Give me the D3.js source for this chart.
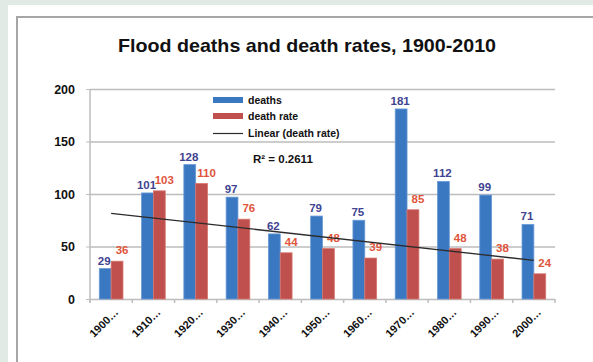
<!DOCTYPE html>
<html><head><meta charset="utf-8">
<script src="https://cdn.jsdelivr.net/npm/d3@7"></script>
<style>
html,body{margin:0;padding:0;background:#e2eae5;}
svg{display:block;}
text{font-family:"Liberation Sans",Arial,sans-serif;}
</style></head>
<body><svg id="c" width="593" height="362"></svg>
<script>
const categories = ["1900…","1910…","1920…","1930…","1940…","1950…","1960…","1970…","1980…","1990…","2000…"];
const deaths = [29,101,128,97,62,79,75,181,112,99,71];
const deathRate = [36,103,110,76,44,48,39,85,48,38,24];
const yTicks = [0,50,100,150,200];
const seriesNames = ["deaths","death rate"];
const trendLabel = "Linear (death rate)";
const r2Label = "R² = 0.2611";
const title = "Flood deaths and death rates, 1900-2010";

(function(){
const svg = d3.select("#c");
svg.append("rect").attr("x",8).attr("y",5).attr("width",600).attr("height",400).attr("fill","#fff");
svg.append("rect").attr("x",17).attr("y",17).attr("width",600).attr("height",400)
  .attr("fill","#fff").attr("stroke","#a6a6a6").attr("stroke-width",2);

const pL=90, pR=555, pT=89, pB=299;
const x = d3.scaleBand().domain(categories).range([pL,pR]).paddingInner(0.44).paddingOuter(0.22);
const xs = d3.scaleBand().domain(seriesNames).range([0,x.bandwidth()]);
const y = d3.scaleLinear().domain([0,200]).range([pB,pT]);

svg.append("text").attr("x",307).attr("y",52).attr("text-anchor","middle")
  .attr("font-size",19).attr("font-weight","bold").attr("fill","#111")
  .attr("textLength",378).attr("lengthAdjust","spacingAndGlyphs").text(title);

svg.append("g").selectAll("line").data(yTicks).join("line")
  .attr("x1",pL).attr("x2",pR).attr("y1",d=>y(d)+0.5).attr("y2",d=>y(d)+0.5)
  .attr("stroke","#bdbdbd").attr("stroke-width",1.5);
svg.append("line").attr("x1",pL).attr("x2",pL).attr("y1",pT).attr("y2",pB+4)
  .attr("stroke","#bdbdbd").attr("stroke-width",1.5);
const yAxis = d3.axisLeft(y).tickValues(yTicks).tickSize(4).tickPadding(11);
const gy = svg.append("g").attr("transform",`translate(${pL},0)`).call(yAxis);
gy.select(".domain").remove();
gy.selectAll("line").attr("stroke","#bdbdbd");
gy.selectAll("text").attr("font-size",12.5).attr("font-weight","bold").attr("fill","#111")
  .attr("font-family","Liberation Sans,Arial,sans-serif");

const step = x.step();
const bounds = categories.map(c=>x(c)-step*x.paddingInner()/2).concat([x(categories[categories.length-1])+x.bandwidth()+step*x.paddingInner()/2]);
svg.append("g").selectAll("line").data(bounds).join("line")
  .attr("x1",d=>d).attr("x2",d=>d).attr("y1",pB).attr("y2",pB+4)
  .attr("stroke","#bdbdbd").attr("stroke-width",1.5);

const colors = {"deaths":"#3b78c2","death rate":"#c0504d"};
const strokes = {"deaths":"#6a9ad6","death rate":"#d6756f"};
const groups = svg.append("g").selectAll("g").data(categories).join("g")
  .attr("transform",d=>`translate(${x(d)},0)`);
groups.append("rect").attr("x",xs("deaths")).attr("width",xs.bandwidth())
  .attr("y",(d,i)=>y(deaths[i])).attr("height",(d,i)=>pB-y(deaths[i]))
  .attr("fill",colors["deaths"]).attr("stroke",strokes["deaths"]).attr("stroke-width",0.8);
groups.append("rect").attr("x",xs("death rate")).attr("width",xs.bandwidth())
  .attr("y",(d,i)=>y(deathRate[i])).attr("height",(d,i)=>pB-y(deathRate[i]))
  .attr("fill",colors["death rate"]).attr("stroke",strokes["death rate"]).attr("stroke-width",0.8);

const n = deathRate.length;
const mx = d3.mean(d3.range(n)), my = d3.mean(deathRate);
const slope = d3.sum(deathRate,(v,i)=>(i-mx)*(v-my))/d3.sum(d3.range(n),i=>(i-mx)*(i-mx));
const icpt = my - slope*mx;
const cx = c=>x(c)+x.bandwidth()/2;
svg.append("line").attr("x1",cx(categories[0])).attr("y1",y(icpt))
  .attr("x2",cx(categories[n-1])).attr("y2",y(icpt+slope*(n-1)))
  .attr("stroke","#2b2b2b").attr("stroke-width",1.3);

groups.append("text").attr("x",xs("deaths")+xs.bandwidth()/2-1).attr("y",(d,i)=>y(deaths[i])-4)
  .attr("text-anchor","middle").attr("font-size",11.5).attr("font-weight","bold").attr("fill","#3f4391")
  .text((d,i)=>deaths[i]);
groups.append("text").attr("x",xs("death rate")+xs.bandwidth()/2+5).attr("y",(d,i)=>y(deathRate[i])-7)
  .attr("text-anchor","middle").attr("font-size",11.5).attr("font-weight","bold").attr("fill","#e0553c")
  .text((d,i)=>deathRate[i]);

svg.append("g").selectAll("text").data(categories).join("text")
  .attr("transform",d=>`translate(${cx(d)+8},${pB+14}) rotate(-45)`)
  .attr("text-anchor","end").attr("font-size",11).attr("font-weight","bold").attr("fill","#111")
  .text(d=>d);

const lg = svg.append("g").attr("transform","translate(213,0)");
lg.append("rect").attr("x",0).attr("y",97).attr("width",30).attr("height",6).attr("fill",colors["deaths"]);
lg.append("rect").attr("x",0).attr("y",113).attr("width",30).attr("height",6).attr("fill",colors["death rate"]);
lg.append("line").attr("x1",0).attr("x2",30).attr("y1",133.5).attr("y2",133.5).attr("stroke","#2b2b2b").attr("stroke-width",1.2);
const lt = [[seriesNames[0],103.5],[seriesNames[1],120],[trendLabel,137]];
lg.selectAll("text").data(lt).join("text").attr("x",35).attr("y",d=>d[1])
  .attr("font-size",10.5).attr("font-weight","bold").attr("fill","#111").text(d=>d[0]);

svg.append("text").attr("x",253).attr("y",163).attr("font-size",11.5).attr("font-weight","bold")
  .attr("fill","#111").text(r2Label);
})();
</script></body></html>
